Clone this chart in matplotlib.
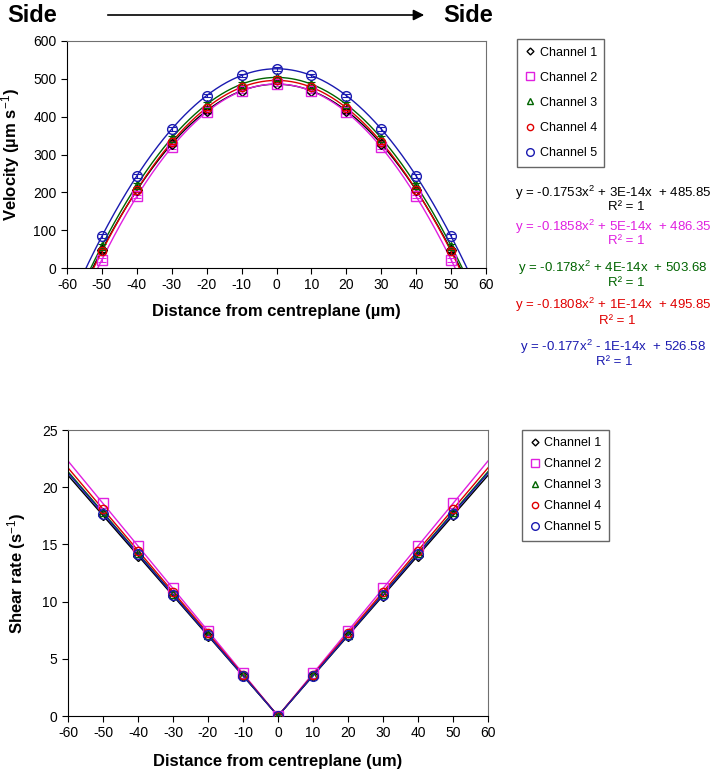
import numpy as np
import matplotlib
matplotlib.use("Agg")
import matplotlib.pyplot as plt
from matplotlib.lines import Line2D
from matplotlib.patches import FancyArrowPatch

plt.rcParams['font.family'] = ['Liberation Sans', 'DejaVu Sans']
plt.rcParams['axes.unicode_minus'] = False
plt.rcParams['mathtext.fontset'] = 'custom'
plt.rcParams['mathtext.rm'] = 'Liberation Sans'
plt.rcParams['mathtext.it'] = 'Liberation Sans:italic'
plt.rcParams['mathtext.bf'] = 'Liberation Sans:bold'

channels = ["Channel 1", "Channel 2", "Channel 3", "Channel 4", "Channel 5"]
colors = ["#000000", "#E020E0", "#006400", "#E00000", "#1A1AB0"]
markers = ["D", "s", "^", "o", "o"]
msizes = [5, 7, 6, 6, 7]

x_pos = [-50, -40, -30, -20, -10, 0, 10, 20, 30, 40, 50]

vel_ch1 = [47.6, 205.4, 328.1, 415.8, 468.3, 485.9, 468.3, 415.8, 328.1, 205.4, 47.6]
vel_ch2 = [21.9, 189.1, 319.1, 412.0, 467.8, 486.4, 467.8, 412.0, 319.1, 189.1, 21.9]
vel_ch3 = [58.7, 218.9, 343.5, 432.5, 485.9, 503.7, 485.9, 432.5, 343.5, 218.9, 58.7]
vel_ch4 = [43.9, 206.6, 333.1, 423.5, 477.8, 495.9, 477.8, 423.5, 333.1, 206.6, 43.9]
vel_ch5 = [84.1, 243.4, 367.3, 455.8, 508.9, 526.6, 508.9, 455.8, 367.3, 243.4, 84.1]
vel_err = [5, 5, 5, 5, 5, 5, 5, 5, 5, 5, 5]

shear_ch1 = [17.53, 14.02, 10.52, 7.01, 3.51, 0.0, 3.51, 7.01, 10.52, 14.02, 17.53]
shear_ch2 = [18.58, 14.86, 11.15, 7.43, 3.72, 0.0, 3.72, 7.43, 11.15, 14.86, 18.58]
shear_ch3 = [17.80, 14.24, 10.68, 7.12, 3.56, 0.0, 3.56, 7.12, 10.68, 14.24, 17.80]
shear_ch4 = [18.08, 14.46, 10.85, 7.23, 3.62, 0.0, 3.62, 7.23, 10.85, 14.46, 18.08]
shear_ch5 = [17.70, 14.16, 10.62, 7.08, 3.54, 0.0, 3.54, 7.08, 10.62, 14.16, 17.70]

equations = [
    "y = -0.1753x$^2$ + 3E-14x  + 485.85",
    "y = -0.1858x$^2$ + 5E-14x  + 486.35",
    "y = -0.178x$^2$ + 4E-14x  + 503.68",
    "y = -0.1808x$^2$ + 1E-14x  + 495.85",
    "y = -0.177x$^2$ - 1E-14x  + 526.58",
]

vel = [vel_ch1, vel_ch2, vel_ch3, vel_ch4, vel_ch5]
shear = [shear_ch1, shear_ch2, shear_ch3, shear_ch4, shear_ch5]

W, H = 720, 779
fig = plt.figure(figsize=(W / 100, H / 100), dpi=100)

def ax_rect(l, t, r, b):
    return [l / W, 1 - b / H, (r - l) / W, (b - t) / H]

spine_gray = "#707070"

# ---------- Top panel ----------
ax1 = fig.add_axes(ax_rect(67, 41, 486, 268))
xs = np.linspace(-60, 60, 400)
x_arr = np.array(x_pos)
for i in range(5):
    coef = np.polyfit(x_arr, vel[i], 2)
    ax1.plot(xs, np.polyval(coef, xs), color=colors[i], lw=1.0, zorder=2)
    ax1.errorbar(x_pos, vel[i], yerr=vel_err, fmt='none', ecolor=colors[i],
                 elinewidth=0.8, capsize=3, capthick=0.8, zorder=3)
    ax1.plot(x_pos, vel[i], linestyle='none', marker=markers[i], ms=msizes[i],
             mfc='none', mec=colors[i], mew=1.0, zorder=4)
ax1.set_xlim(-60, 60)
ax1.set_ylim(0, 600)
ax1.set_xticks(range(-60, 61, 10))
ax1.set_yticks(range(0, 601, 100))
ax1.tick_params(direction='out', length=4, labelsize=10, width=0.8)
for s in ['top', 'right']:
    ax1.spines[s].set_color(spine_gray)
ax1.set_ylabel("Velocity (µm s$^{-1}$)", fontsize=12, fontweight='bold', labelpad=8)
ax1.set_xlabel("Distance from centreplane (µm)", fontsize=12, fontweight='bold', labelpad=8)

# ---------- Bottom panel ----------
ax2 = fig.add_axes(ax_rect(68, 430, 488, 716))
for i in range(5):
    xa = np.array(x_pos)
    ya = np.array(shear[i])
    left = xa <= 0
    right = xa >= 0
    cl = np.polyfit(xa[left], ya[left], 1)
    cr = np.polyfit(xa[right], ya[right], 1)
    xl = np.linspace(-60, 0, 50)
    xr = np.linspace(0, 60, 50)
    ax2.plot(xl, np.polyval(cl, xl), color=colors[i], lw=1.0, zorder=2)
    ax2.plot(xr, np.polyval(cr, xr), color=colors[i], lw=1.0, zorder=2)
    ax2.plot(x_pos, shear[i], linestyle='none', marker=markers[i], ms=msizes[i],
             mfc='none', mec=colors[i], mew=1.0, zorder=4)
ax2.set_xlim(-60, 60)
ax2.set_ylim(0, 25)
ax2.set_xticks(range(-60, 61, 10))
ax2.set_yticks(range(0, 26, 5))
ax2.tick_params(direction='out', length=4, labelsize=10, width=0.8)
for s in ['top', 'right']:
    ax2.spines[s].set_color(spine_gray)
ax2.set_ylabel("Shear rate (s$^{-1}$)", fontsize=12, fontweight='bold', labelpad=10)
ax2.set_xlabel("Distance from centreplane (um)", fontsize=12, fontweight='bold', labelpad=10)

# ---------- Legends ----------
handles = [Line2D([0], [0], linestyle='none', marker=markers[i], ms=msizes[i] - 1.5,
                  mfc='none', mec=colors[i], mew=1.0) for i in range(5)]
for anchor, spacing in [((517 / W, 1 - 39 / H), 1.05), ((522 / W, 1 - 430 / H), 0.72)]:
    leg = fig.legend(handles, channels, loc='upper left', bbox_to_anchor=anchor,
                     fontsize=9, frameon=True, fancybox=False, edgecolor='#404040',
                     handlelength=0.8, handletextpad=0.4, labelspacing=spacing,
                     borderpad=0.6, borderaxespad=0)
    leg.get_frame().set_linewidth(1.0)

# ---------- Equations ----------
eq_y = [193, 227, 268, 305, 347]
r2_y = [207, 241, 283, 321, 362]
r2_x = [626, 626, 626, 617, 614]
for i in range(5):
    fig.text(613 / W, 1 - eq_y[i] / H, equations[i], color=colors[i],
             fontsize=9.5, ha='center', va='center')
    fig.text(r2_x[i] / W, 1 - r2_y[i] / H, "R² = 1", color=colors[i],
             fontsize=9.5, ha='center', va='center')

# ---------- Header ----------
fig.text(7 / W, 1 - 15 / H, "Side", fontsize=17, fontweight='bold', va='center', ha='left')
fig.text(443 / W, 1 - 15 / H, "Side", fontsize=17, fontweight='bold', va='center', ha='left')
fig.add_artist(FancyArrowPatch(
    (105 / W, 1 - 15 / H), (427 / W, 1 - 15 / H), transform=fig.transFigure,
    arrowstyle='-|>', mutation_scale=16, lw=1.2, color='black'))

fig.savefig("out.png", dpi=100)
